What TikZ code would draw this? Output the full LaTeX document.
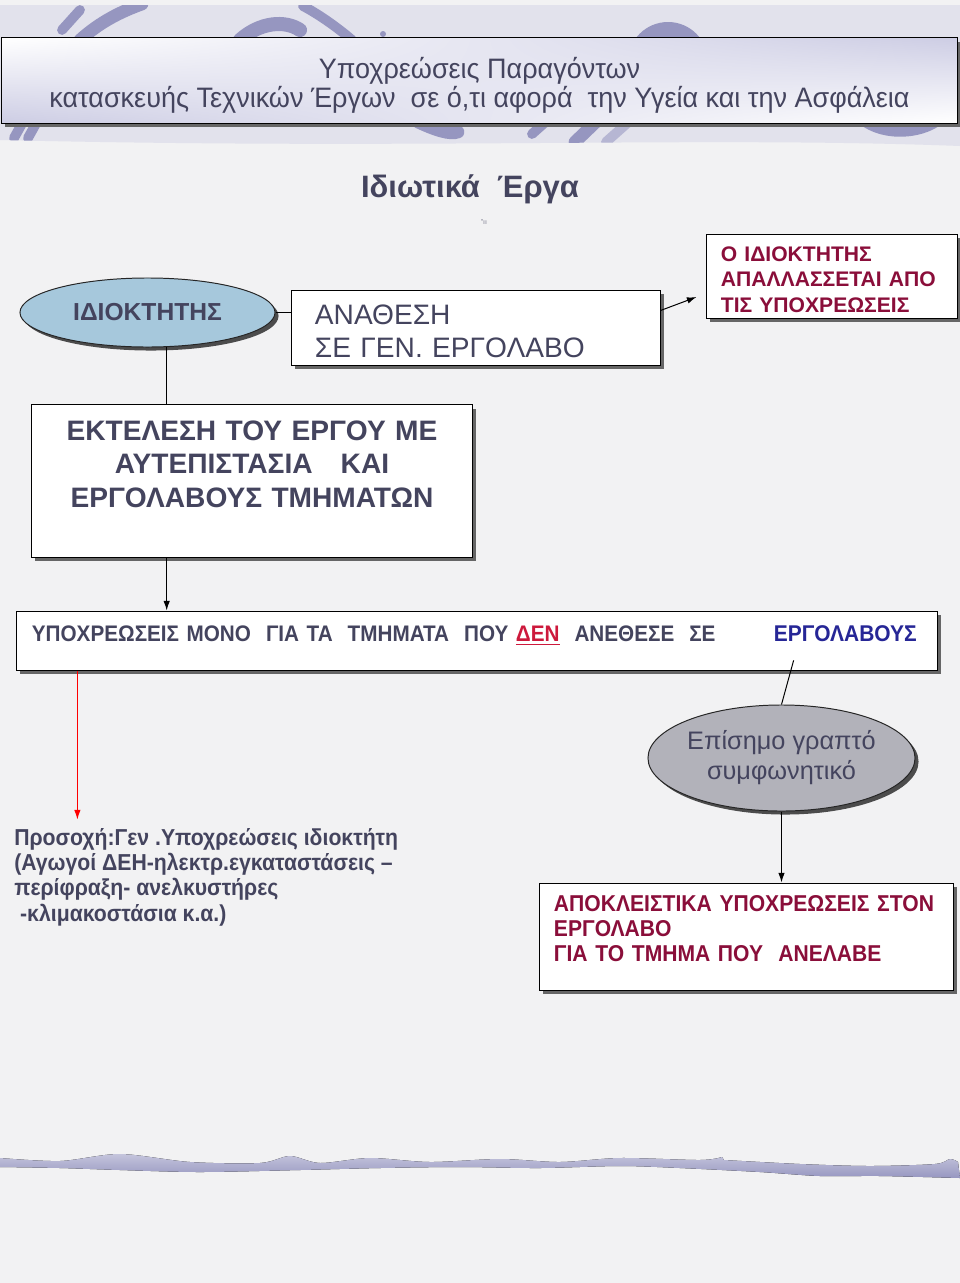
\documentclass[tikz,border=0pt]{standalone}
\usepackage{fontspec}
\setmainfont{Liberation Sans}
\newfontfamily\narrowsans[FakeStretch=0.92]{Liberation Sans}
\newfontfamily\titlesans[FakeStretch=0.96]{Liberation Sans}
\usetikzlibrary{shapes.geometric,shadows,shadings,calc,arrows.meta}

\definecolor{inkgray}{RGB}{68,68,94}
\definecolor{inkred}{RGB}{138,14,58}
\definecolor{inkcrimson}{RGB}{205,25,60}
\definecolor{inkblue}{RGB}{38,38,150}
\definecolor{paper}{RGB}{242,242,243}
\definecolor{band}{RGB}{226,226,236}
\definecolor{swoosh}{RGB}{150,150,192}
\definecolor{titlelav}{RGB}{205,205,228}
\definecolor{ownerblue}{RGB}{166,200,220}
\definecolor{dealgray}{RGB}{178,178,186}

\tikzset{
	box/.style={draw=black, line width=0.7pt, fill=white, inner sep=0pt,
		drop shadow={shadow xshift=2.5pt, shadow yshift=-2.5pt, fill=black!60, opacity=1}},
	oval/.style={ellipse, draw=black!85, line width=0.7pt, inner sep=0pt,
		drop shadow={shadow xshift=2.5pt, shadow yshift=-2.5pt, fill=black!70, opacity=1}},
	swirl/.style={swoosh, line width=7pt, line cap=round},
}

\begin{document}
\begin{tikzpicture}[x=0.025cm, y=-0.025cm, >={Latex[length=2.4mm,width=1.6mm]}]
	\useasboundingbox (0,0) rectangle (960,1283);
	\fill[paper] (0,0) rectangle (960,1283);

	% top band with swooshes
	\fill[band] (0,5) -- (960,5) -- (960,146) .. controls (700,136) and (420,150) .. (0,140) -- cycle;
	\begin{scope}
		\clip (0,5) -- (960,5) -- (960,146) .. controls (700,136) and (420,150) .. (0,140) -- cycle;
		\draw[swirl] (62,30) -- (80,10);
		\draw[swirl, line width=9pt] (80,40) .. controls (100,22) and (120,12) .. (142,4);
		\draw[swirl, line width=10pt] (240,40) .. controls (260,22) and (285,20) .. (300,30);
		\draw[swirl] (303,6) .. controls (320,15) and (338,28) .. (352,40);
		\fill[swoosh] (383,34) circle (3);
		\fill[swoosh] (668,62) circle (40);
		\draw[swirl] (14,138) -- (24,120);
		\draw[swirl] (28,138) -- (38,120);
		\draw[swirl, line width=9pt] (418,122) .. controls (435,130) and (450,135) .. (458,132);
		\draw[swirl] (532,134) -- (550,118);
		\draw[swirl, line width=9pt] (575,142) -- (600,118);
		\draw[swirl, swoosh!70] (606,142) -- (633,118);
		\fill[swoosh] (855,120) .. controls (880,145) and (930,140) .. (948,118) -- cycle;
	\end{scope}

	% bottom wave
	\fill[top color=swoosh!55, bottom color=swoosh]
		plot[smooth] coordinates {(0,1158) (60,1161) (120,1154) (190,1162) (260,1163) (290,1156) (320,1163) (370,1158) (430,1162) (500,1159) (560,1162) (620,1158) (700,1160) (722,1157)}
		-- (724,1160)
		-- plot[smooth] coordinates {(724,1160) (800,1164) (870,1166) (935,1164) (950,1159) (958,1162)}
		-- (960,1178)
		-- plot[smooth] coordinates {(960,1178) (880,1176) (820,1176) (760,1172) (680,1168) (620,1166) (540,1168) (460,1167) (380,1168) (300,1170) (200,1172) (120,1170) (60,1168) (0,1167)}
		-- cycle;

	% title
	\node[box, upper left=white, upper right=titlelav, lower left=titlelav, lower right=white,
		minimum width=23.875cm, minimum height=2.125cm, align=center,
		font=\titlesans\fontsize{20}{21}\selectfont, text=inkgray] (title) at (479.5,80.5)
		{\rule{0pt}{22pt}Υποχρεώσεις Παραγόντων\\κατασκευής Τεχνικών Έργων\ \ σε ό,τι αφορά\ \ την Υγεία και την Ασφάλεια};

	\node[font=\fontsize{22}{25}\selectfont\bfseries, text=inkgray] (heading) at (470,189) {Ιδιωτικά\ \ Έργα};
	\node[font=\fontsize{5}{5}\selectfont, text=inkgray!70] (mark) at (484,222) {"ıı};

	% owner and assignment
	\node[oval, fill=ownerblue, minimum width=6.375cm, minimum height=1.725cm,
		font=\fontsize{17.5}{20}\selectfont\bfseries, text=inkgray] (idiok) at (147.5,312.5) {ΙΔΙΟΚΤΗΤΗΣ};
	\node[box, minimum width=9.2cm, minimum height=1.875cm, text width=8.05cm, align=left,
		font=\fontsize{20}{23.5}\selectfont, text=inkgray] (anathesi) at (476,327.5) {\rule{0pt}{20pt}ΑΝΑΘΕΣΗ\\ΣΕ ΓΕΝ. ΕΡΓΟΛΑΒΟ};
	\node[box, minimum width=6.25cm, minimum height=2.1cm, text width=5.55cm, align=left,
		font=\fontsize{15}{18}\selectfont\bfseries, text=inkred] (apallass) at (832,276)
		{\rule{0pt}{15.7pt}Ο ΙΔΙΟΚΤΗΤΗΣ\\ΑΠΑΛΛΑΣΣΕΤΑΙ ΑΠΟ\\ΤΙΣ ΥΠΟΧΡΕΩΣΕΙΣ};

	% own supervision
	\node[box, minimum width=11cm, minimum height=3.8cm, text width=10.5cm, align=center,
		font=\fontsize{20}{24}\selectfont\bfseries, text=inkgray] (ektelesi) at (252,481)
		{ΕΚΤΕΛΕΣΗ ΤΟΥ ΕΡΓΟΥ ΜΕ\\ΑΥΤΕΠΙΣΤΑΣΙΑ\ \ \ ΚΑΙ\\ΕΡΓΟΛΑΒΟΥΣ ΤΜΗΜΑΤΩΝ\\\phantom{Χ}};

	\node[box, minimum width=23cm, minimum height=1.475cm, text width=22.25cm, align=left,
		font=\narrowsans\fontsize{16}{18}\selectfont\bfseries, text=inkgray] (ypox) at (477,640.5)
		{ΥΠΟΧΡΕΩΣΕΙΣ ΜΟΝΟ\ \ ΓΙΑ ΤΑ\ \ ΤΜΗΜΑΤΑ\ \ ΠΟΥ {\color{inkcrimson}\underline{ΔΕΝ}}\ \ ΑΝΕΘΕΣΕ\ \ ΣΕ\rule[-0.325cm]{0pt}{0pt}};
	\node[font=\narrowsans\fontsize{16.2}{18}\selectfont\bfseries, text=inkblue, inner xsep=0pt, inner ysep=0.45cm,
		anchor=east] (ergo) at (917,634) {ΕΡΓΟΛΑΒΟΥΣ};

	% contract path
	\node[oval, fill=dealgray, minimum width=6.675cm, minimum height=2.65cm, align=center,
		font=\fontsize{18}{21.3}\selectfont, text=inkgray] (symfon) at (781.5,758) {Επίσημο γραπτό\\συμφωνητικό};
	\node[box, minimum width=10.325cm, minimum height=2.675cm, text width=9.625cm, align=left,
		font=\narrowsans\fontsize{16.3}{18}\selectfont\bfseries, text=inkred] (apokl) at (746.5,936.5)
		{ΑΠΟΚΛΕΙΣΤΙΚΑ ΥΠΟΧΡΕΩΣΕΙΣ ΣΤΟΝ\\ΕΡΓΟΛΑΒΟ\\ΓΙΑ ΤΟ ΤΜΗΜΑ ΠΟΥ\ \ ΑΝΕΛΑΒΕ\rule[-0.41cm]{0pt}{0pt}};

	% owner's general duties
	\node[anchor=north west, inner sep=0pt, align=left,
		font=\narrowsans\fontsize{16.4}{18}\selectfont\bfseries, text=inkgray] (prosoxi) at (14,828)
		{Προσοχή:Γεν .Υποχρεώσεις ιδιοκτήτη\\(Αγωγοί ΔΕΗ-ηλεκτρ.εγκαταστάσεις –\\περίφραξη- ανελκυστήρες\\\ -κλιμακοστάσια κ.α.)};

	% connectors
	\coordinate (idiokfoot) at (idiok.-61);
	\coordinate (redtop) at ($(ypox.south west)+(61,0)$);
	\coordinate (ergofoot) at ($(ergo.south west)+(20,0)$);
	\draw[line width=0.7pt] (idiok.east) -- (idiok.east -| anathesi.west);
	\draw[->, line width=0.7pt] ($(anathesi.east)+(0,-17)$) -- ($(apallass.west)+(-10,21)$);
	\draw[line width=0.7pt] (idiokfoot) -- (idiokfoot |- ektelesi.north);
	\draw[->, line width=0.7pt] (ektelesi.south -| idiokfoot) -- (ypox.north -| idiokfoot);
	\draw[->, red, line width=0.7pt, shorten >=6pt] (redtop) -- (redtop |- prosoxi.north);
	\draw[line width=0.7pt] (ergofoot) -- (symfon.north);
	\draw[->, line width=0.7pt] (symfon.south) -- (symfon.south |- apokl.north);
\end{tikzpicture}
\end{document}
